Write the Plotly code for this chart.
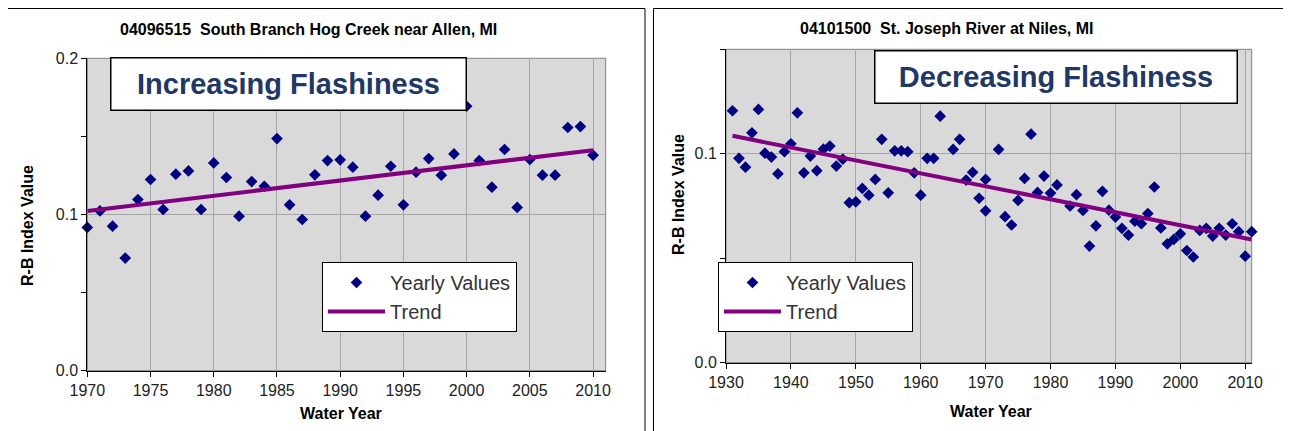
import plotly.graph_objects as go
from plotly.subplots import make_subplots

# South Branch Hog Creek near Allen, MI (04096515)
hog_years = list(range(1970, 2011))
hog_values = [
    0.0917, 0.1023, 0.0925, 0.0721, 0.1096, 0.1224, 0.1032, 0.1258, 0.1279, 0.1032,
    0.1330, 0.1237, 0.0989, 0.1211, 0.1181, 0.1486, 0.1062, 0.0968, 0.1254, 0.1345,
    0.1350, 0.1303, 0.0989, 0.1124, 0.1309, 0.1062, 0.1271, 0.1358, 0.1252, 0.1388,
    0.1693, 0.1345, 0.1175, 0.1416, 0.1045, 0.1352, 0.1252, 0.1252, 0.1557, 0.1563,
    0.1380,
]
hog_trend_years = [1970, 2010]
hog_trend_values = [0.1023, 0.1412]

# St. Joseph River at Niles, MI (04101500)
joe_years = [
    1931, 1932, 1933, 1934, 1935, 1936, 1937, 1938, 1939, 1940,
    1941, 1942, 1943, 1944, 1945, 1946, 1947, 1948, 1949, 1950,
    1951, 1952, 1953, 1954, 1955, 1956, 1957, 1958, 1959, 1960,
    1961, 1962, 1963, 1965, 1966, 1967, 1968, 1969, 1970, 1970,
    1972, 1973, 1974, 1975, 1976, 1977, 1978, 1979, 1980, 1981,
    1983, 1984, 1985, 1986, 1987, 1988, 1989, 1990, 1991, 1992,
    1993, 1994, 1995, 1996, 1997, 1998, 1999, 2000, 2001, 2002,
    2003, 2004, 2005, 2006, 2007, 2008, 2009, 2010, 2011,
]
joe_values = [
    0.1206, 0.0978, 0.0936, 0.1100, 0.1212, 0.1003, 0.0984, 0.0904, 0.1010, 0.1048,
    0.1196, 0.0909, 0.0989, 0.0919, 0.1022, 0.1037, 0.0941, 0.0974, 0.0766, 0.0770,
    0.0834, 0.0802, 0.0877, 0.1069, 0.0813, 0.1014, 0.1014, 0.1010, 0.0909, 0.0802,
    0.0978, 0.0978, 0.1180, 0.1021, 0.1069, 0.0874, 0.0911, 0.0787, 0.0877, 0.0727,
    0.1021, 0.0699, 0.0659, 0.0777, 0.0882, 0.1094, 0.0815, 0.0893, 0.0812, 0.0851,
    0.0750, 0.0804, 0.0729, 0.0558, 0.0655, 0.0820, 0.0730, 0.0697, 0.0643, 0.0611,
    0.0677, 0.0665, 0.0714, 0.0841, 0.0645, 0.0569, 0.0590, 0.0617, 0.0537, 0.0506,
    0.0633, 0.0643, 0.0606, 0.0643, 0.0611, 0.0665, 0.0627, 0.0510, 0.0627,
]
joe_trend_years = [1931, 2011]
joe_trend_values = [0.1086, 0.0590]

W, H = 1291, 431
OFFSET = 8  # the page body margin pushes the chart 8px right and down
font = "Liberation Sans, Arial, sans-serif"
plot_bg = "#D9D9D9"
grid_color = "#A6A6A6"
point_color = "#000080"
trend_color = "#800080"
note_color = "#1F3864"


def px_x(p):
    """Screen pixel column -> paper fraction."""
    return (p - OFFSET) / W


def px_y(p):
    """Screen pixel row -> paper fraction."""
    return 1 - (p - OFFSET) / H


fig = make_subplots(rows=1, cols=2)

panels = [
    dict(col=1, years=hog_years, values=hog_values,
         tyears=hog_trend_years, tvalues=hog_trend_values, legend="legend"),
    dict(col=2, years=joe_years, values=joe_values,
         tyears=joe_trend_years, tvalues=joe_trend_values, legend="legend2"),
]

for p in panels:
    fig.add_trace(go.Scatter(
        x=p["years"], y=p["values"], mode="markers", name="Yearly Values",
        marker=dict(symbol="diamond", size=9, color=point_color),
        legend=p["legend"], cliponaxis=False,
    ), row=1, col=p["col"])
    fig.add_trace(go.Scatter(
        x=p["tyears"], y=p["tvalues"], mode="lines", name="Trend",
        line=dict(color=trend_color, width=4),
        legend=p["legend"],
    ), row=1, col=p["col"])

# Shared axis styling
axis_common = dict(
    showline=True, linecolor="black", linewidth=1,
    ticks="outside", ticklen=5, tickcolor="black",
    showgrid=True, gridcolor=grid_color, gridwidth=1,
    zeroline=False, automargin=False,
    tickfont=dict(family=font, size=16, color="#222"),
)

fig.update_xaxes(**axis_common)
fig.update_yaxes(**axis_common)

# Left panel axes
fig.update_xaxes(domain=[px_x(87.3), px_x(605.7)], range=[1970, 2011],
                 tick0=1970, dtick=5, row=1, col=1)
fig.update_yaxes(domain=[px_y(370.7), px_y(58.3)], range=[0, 0.2],
                 tick0=0, dtick=0.1, tickformat=".1f",
                 minor=dict(dtick=0.05, ticks="outside", ticklen=5,
                            tickcolor="black", showgrid=False),
                 row=1, col=1)

# Right panel axes
fig.update_xaxes(domain=[px_x(726), px_x(1251.7)], range=[1930, 2011],
                 tick0=1930, dtick=10, row=1, col=2)
fig.update_yaxes(domain=[px_y(362.7), px_y(49.3)], range=[0, 0.15],
                 tick0=0, dtick=0.1, tickformat=".1f",
                 minor=dict(dtick=0.05, ticks="outside", ticklen=5,
                            tickcolor="black", showgrid=False),
                 row=1, col=2)

# Gray border around the plot areas plus the outer chart frames
shapes = []
for xr, yr in [("x", "y"), ("x2", "y2")]:
    shapes.append(dict(type="rect", xref=f"{xr} domain", yref=f"{yr} domain",
                       x0=0, x1=1, y0=0, y1=1, layer="below",
                       line=dict(color="#808080", width=1)))
shapes.append(dict(type="rect", xref="paper", yref="paper",
                   x0=px_x(7.5), x1=px_x(645), y0=px_y(450), y1=px_y(8.5),
                   line=dict(color="black", width=1)))
shapes.append(dict(type="rect", xref="paper", yref="paper",
                   x0=px_x(653.5), x1=px_x(1310), y0=px_y(450), y1=px_y(8.5),
                   line=dict(color="black", width=1)))

label_font = dict(size=16, color="black", family=font)
note_font = dict(size=29, color=note_color, family=font)
annotations = [
    # chart titles
    dict(text="04096515  South Branch Hog Creek near Allen, MI",
         x=px_x(308), y=px_y(30), font=label_font),
    dict(text="04101500  St. Joseph River at Niles, MI",
         x=px_x(946.5), y=px_y(28), font=label_font),
    # axis titles
    dict(text="R-B Index Value", x=px_x(27), y=px_y(226), textangle=-90,
         font=label_font),
    dict(text="R-B Index Value", x=px_x(678), y=px_y(195), textangle=-90,
         font=label_font),
    dict(text="Water Year", x=px_x(340.5), y=px_y(413), font=label_font),
    dict(text="Water Year", x=px_x(990.5), y=px_y(411.5), font=label_font),
    # flashiness call-out boxes
    dict(text="Increasing Flashiness", x=px_x(288), y=px_y(84),
         width=352, height=49, bgcolor="white", bordercolor="black",
         borderwidth=1.5, borderpad=1, font=note_font),
    dict(text="Decreasing Flashiness", x=px_x(1055.5), y=px_y(77),
         width=359, height=49, bgcolor="white", bordercolor="black",
         borderwidth=1.5, borderpad=1, font=note_font),
]
for a in annotations:
    a.update(xref="paper", yref="paper", showarrow=False,
             xanchor="center", yanchor="middle")
    a["text"] = f"<b>{a['text']}</b>"

legend_common = dict(
    bgcolor="white", bordercolor="black", borderwidth=1,
    font=dict(family=font, size=20, color="#333"),
    xanchor="left", yanchor="top", itemwidth=57,
    tracegroupgap=0,
)

fig.update_layout(
    width=W, height=H,
    margin=dict(l=0, r=0, t=0, b=0, pad=0, autoexpand=False),
    paper_bgcolor="white",
    plot_bgcolor=plot_bg,
    showlegend=True,
    legend=dict(x=px_x(322), y=px_y(262), **legend_common),
    legend2=dict(x=px_x(718), y=px_y(262), **legend_common),
    shapes=shapes,
    annotations=annotations,
)

fig.write_html("out.html")
